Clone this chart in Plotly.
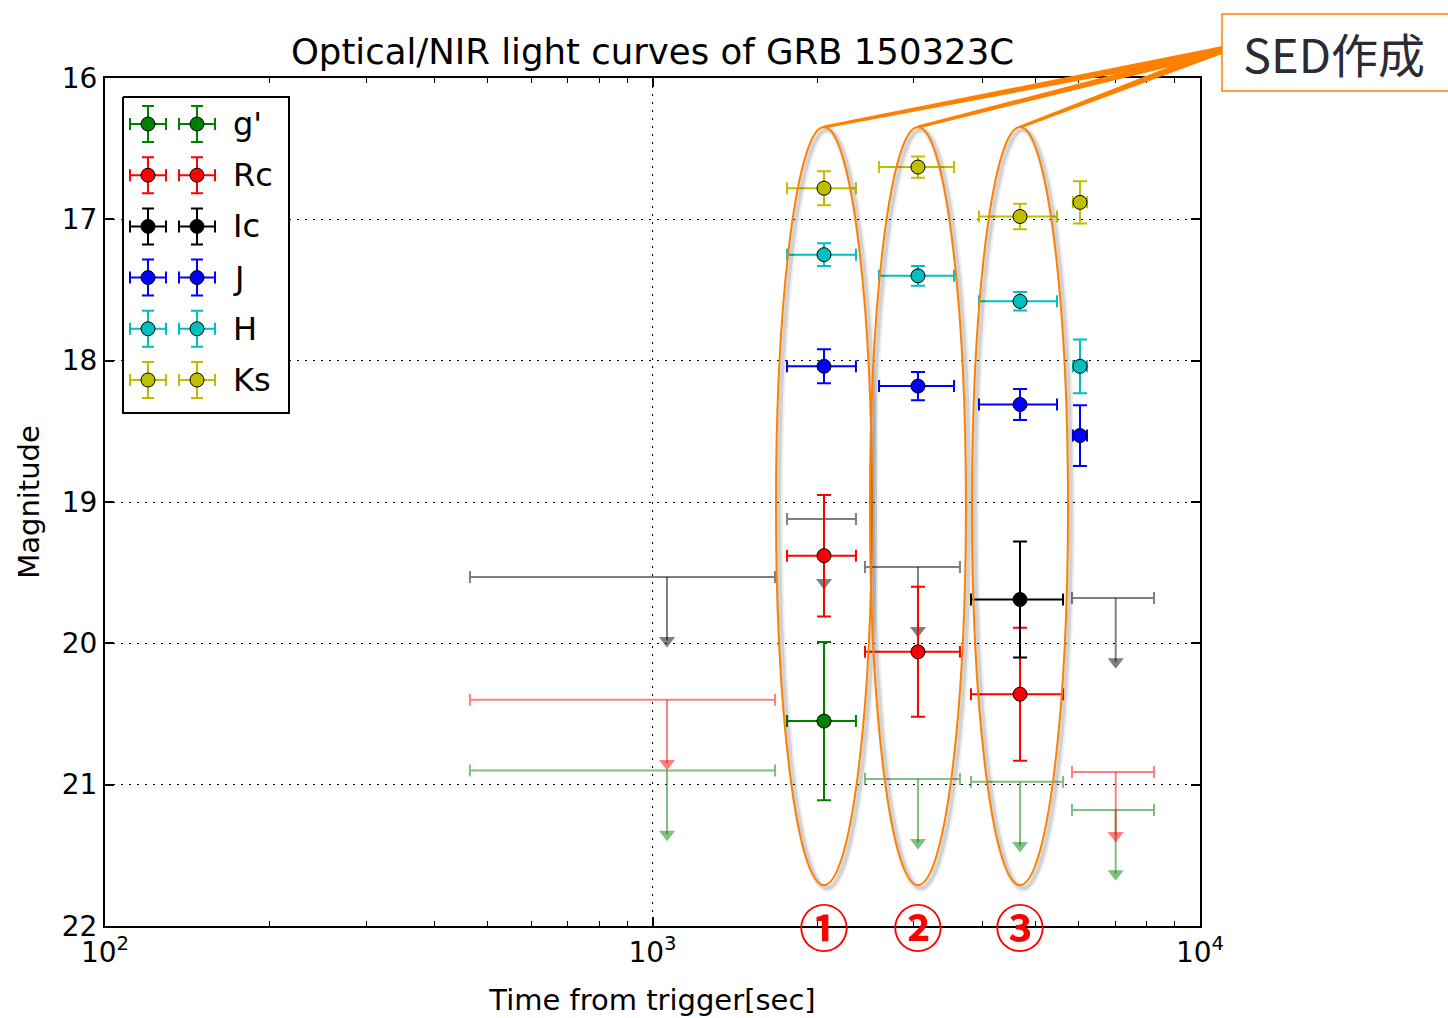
import numpy as np
import plotly.graph_objects as go

# ---------------- photometry ----------------
# times in seconds after the trigger: mid-point, window start, window end
# g'
G_T, G_T0, G_T1 = [2057], [1761], [2353]
G_MAG, G_ERR = [20.55], [0.56]
G_UL_T = [1063, 3054, 4691, 7015]
G_UL_T0 = [464, 2444, 3817, 5837]
G_UL_T1 = [1674, 3644, 5622, 8241]
G_UL_MAG = [20.90, 20.96, 20.98, 21.18]
# Rc
R_T, R_T0, R_T1 = [2057, 3054, 4691], [1761, 2444, 3817], [2353, 3644, 5622]
R_MAG, R_ERR = [19.38, 20.06, 20.36], [0.43, 0.46, 0.47]
R_UL_T, R_UL_T0, R_UL_T1 = [1063, 7015], [464, 5837], [1674, 8241]
R_UL_MAG = [20.40, 20.91]
# Ic
I_T, I_T0, I_T1 = [4691], [3817], [5622]
I_MAG, I_ERR = [19.69], [0.41]
I_UL_T = [1063, 2057, 3054, 7015]
I_UL_T0 = [464, 1761, 2444, 5837]
I_UL_T1 = [1674, 2353, 3644, 8241]
I_UL_MAG = [19.53, 19.12, 19.46, 19.68]
# NIR bands (J, H, Ks) share the same exposures
NIR_T = [2057, 3054, 4691, 6037]
NIR_T0 = [1761, 2593, 3947, 5860]
NIR_T1 = [2353, 3554, 5481, 6217]
J_MAG, J_ERR = [18.04, 18.18, 18.31, 18.53], [0.12, 0.10, 0.11, 0.215]
H_MAG, H_ERR = [17.25, 17.40, 17.58, 18.04], [0.08, 0.07, 0.065, 0.19]
K_MAG, K_ERR = [16.78, 16.63, 16.98, 16.88], [0.12, 0.075, 0.09, 0.15]

# epochs picked for SED construction
SED_EPOCHS = NIR_T[:3]
SED_LABELS = ["①", "②", "③"]

BANDS = ["g'", "Rc", "Ic", "J", "H", "Ks"]
COLORS = ["#008000", "#ff0000", "#000000", "#0000ff", "#00bfbf", "#bfbf00"]
LIMIT_COLORS = ["rgba(0,128,0,0.5)", "rgba(255,0,0,0.5)", "rgba(0,0,0,0.5)"]

X_TICKS = [100, 1000, 10000]
X_TICKTEXT = ["10<sup>2</sup>", "10<sup>3</sup>", "10<sup>4</sup>"]
X_MINOR = [m * d for d in (100, 1000) for m in range(2, 10)]
Y_TICKS = [16, 17, 18, 19, 20, 21, 22]
X_RANGE = [2, 4]      # log10 seconds
Y_RANGE = [22, 16]    # magnitudes, brighter upwards

# ---------------- geometry (pixels) ----------------
W, H = 1448, 1018
PL, PR, PT, PB = 105, 1200, 78, 926
ARROW = 0.45  # length of upper-limit arrows (mag)
FONT = "DejaVu Sans"
CJK = "Noto Sans CJK JP"
ORANGE = "#ff8000"


def pxx(x):
    return (x - PL) / (PR - PL)


def pxy(y):
    return (PB - y) / (PB - PT)


def t_to_paper(t):
    return (np.log10(t) - X_RANGE[0]) / (X_RANGE[1] - X_RANGE[0])


def mag_to_paper(m):
    return (Y_RANGE[0] - m) / (Y_RANGE[0] - Y_RANGE[1])


fig = go.Figure()


def add_limits(t, t0, t1, mag, color):
    fig.add_trace(go.Scatter(
        x=t, y=mag, mode="markers",
        marker=dict(size=0.1, color="rgba(0,0,0,0)"),
        error_x=dict(type="data", symmetric=False,
                     array=[b - a for a, b in zip(t, t1)],
                     arrayminus=[a - b for a, b in zip(t, t0)],
                     color=color, thickness=2, width=6),
        hoverinfo="skip"))
    xs, ys = [], []
    for ti, mi in zip(t, mag):
        xs += [ti, ti, None]
        ys += [mi, mi + ARROW, None]
    fig.add_trace(go.Scatter(x=xs, y=ys, mode="lines",
                             line=dict(color=color, width=2), hoverinfo="skip"))
    fig.add_trace(go.Scatter(
        x=t, y=[m + ARROW for m in mag], mode="markers",
        marker=dict(symbol="triangle-down", size=14, color=color, line=dict(width=0)),
        hoverinfo="skip"))


def add_points(t, t0, t1, mag, err, color, name):
    fig.add_trace(go.Scatter(
        x=t, y=mag, mode="markers", name=name,
        marker=dict(size=14, color=color, line=dict(color="black", width=1)),
        error_x=dict(type="data", symmetric=False,
                     array=[b - a for a, b in zip(t, t1)],
                     arrayminus=[a - b for a, b in zip(t, t0)],
                     color=color, thickness=2, width=6),
        error_y=dict(type="data", array=err, color=color, thickness=2, width=7)))


# upper limits (faint)
add_limits(G_UL_T, G_UL_T0, G_UL_T1, G_UL_MAG, LIMIT_COLORS[0])
add_limits(R_UL_T, R_UL_T0, R_UL_T1, R_UL_MAG, LIMIT_COLORS[1])
add_limits(I_UL_T, I_UL_T0, I_UL_T1, I_UL_MAG, LIMIT_COLORS[2])

# detections
add_points(G_T, G_T0, G_T1, G_MAG, G_ERR, COLORS[0], BANDS[0])
add_points(R_T, R_T0, R_T1, R_MAG, R_ERR, COLORS[1], BANDS[1])
add_points(I_T, I_T0, I_T1, I_MAG, I_ERR, COLORS[2], BANDS[2])
add_points(NIR_T, NIR_T0, NIR_T1, J_MAG, J_ERR, COLORS[3], BANDS[3])
add_points(NIR_T, NIR_T0, NIR_T1, H_MAG, H_ERR, COLORS[4], BANDS[4])
add_points(NIR_T, NIR_T0, NIR_T1, K_MAG, K_ERR, COLORS[5], BANDS[5])

# ---------------- legend box (drawn on a pixel-space overlay axis) ----------------
LEG_X0, LEG_X1, LEG_Y0, LEG_Y1 = 123, 289, 97, 413
LEG_ROW0, LEG_DY = 124, 51.2
LEG_COLS = [148, 197]
LEG_TEXT_X = 231

fig.add_trace(go.Scatter(
    x=[LEG_X0, LEG_X1, LEG_X1, LEG_X0, LEG_X0],
    y=[LEG_Y0, LEG_Y0, LEG_Y1, LEG_Y1, LEG_Y0],
    mode="lines", fill="toself", fillcolor="white",
    line=dict(color="black", width=2), xaxis="x2", yaxis="y2", hoverinfo="skip"))

for i, (band, col) in enumerate(zip(BANDS, COLORS)):
    yy = LEG_ROW0 + i * LEG_DY
    fig.add_trace(go.Scatter(
        x=LEG_COLS, y=[yy, yy], mode="markers", xaxis="x2", yaxis="y2",
        marker=dict(size=14, color=col, line=dict(color="black", width=1)),
        error_x=dict(type="constant", value=18, color=col, thickness=2, width=6),
        error_y=dict(type="constant", value=18, color=col, thickness=2, width=6),
        hoverinfo="skip"))
    fig.add_annotation(x=pxx(LEG_TEXT_X), y=pxy(yy), xref="paper", yref="paper",
                       text=band, showarrow=False, xanchor="left", yanchor="middle",
                       font=dict(family=FONT, size=32, color="black"))

# ---------------- SED epoch markers ----------------
shapes = []
ELL_HALF_W = 48 / (PR - PL)          # paper units
ELL_TOP, ELL_BOT = 16.347, 21.711     # magnitudes
SHADOW_DX = 3 / (PR - PL)
SHADOW_DY = 3 / (PB - PT)
for t in SED_EPOCHS:
    cx = t_to_paper(t)
    ytop, ybot = mag_to_paper(ELL_TOP), mag_to_paper(ELL_BOT)
    for w, a in ((8, 0.06), (4, 0.12)):
        shapes.append(dict(type="circle", xref="paper", yref="paper",
                           x0=cx - ELL_HALF_W + SHADOW_DX, x1=cx + ELL_HALF_W + SHADOW_DX,
                           y0=ybot - SHADOW_DY, y1=ytop - SHADOW_DY,
                           line=dict(color=f"rgba(0,0,0,{a})", width=w), layer="above"))
    shapes.append(dict(type="circle", xref="paper", yref="paper",
                       x0=cx - ELL_HALF_W, x1=cx + ELL_HALF_W, y0=ybot, y1=ytop,
                       line=dict(color=ORANGE, width=2), layer="above"))

# connectors from ellipse tops to the label box (tapered)
BOX_X0, BOX_X1, BOX_Y0, BOX_Y1 = 1222, 1452, 14, 91
JOIN = (1222, 50)
for t in SED_EPOCHS:
    sx = PL + t_to_paper(t) * (PR - PL)
    sy = PB - mag_to_paper(ELL_TOP) * (PB - PT)
    ex, ey = JOIN
    dx, dy = ex - sx, ey - sy
    n = np.hypot(dx, dy)
    nx, ny = -dy / n, dx / n
    w0, w1 = 1.5, 3.8
    pts = [(sx + nx * w0, sy + ny * w0), (ex + nx * w1, ey + ny * w1),
           (ex - nx * w1, ey - ny * w1), (sx - nx * w0, sy - ny * w0)]
    path = "M " + " L ".join(f"{pxx(a):.5f},{pxy(b):.5f}" for a, b in pts) + " Z"
    shapes.append(dict(type="path", xref="paper", yref="paper", path=path,
                       fillcolor=ORANGE, line=dict(width=0), layer="above"))

shapes.append(dict(type="rect", xref="paper", yref="paper",
                   x0=pxx(BOX_X0), x1=pxx(BOX_X1), y0=pxy(BOX_Y1), y1=pxy(BOX_Y0),
                   fillcolor="white", line=dict(color=ORANGE, width=1.5), layer="above"))

fig.add_annotation(x=pxx(1241), y=pxy((BOX_Y0 + BOX_Y1) / 2), xref="paper", yref="paper",
                   text="SED作成", showarrow=False, xanchor="left", yanchor="middle",
                   font=dict(family=CJK, size=47, color="#2b2b36"))

for t, lab in zip(SED_EPOCHS, SED_LABELS):
    fig.add_annotation(x=t_to_paper(t), y=mag_to_paper(22) + 1 / (PB - PT),
                       xref="paper", yref="paper", text=lab,
                       showarrow=False, xanchor="center", yanchor="middle",
                       font=dict(family=CJK, size=50, color="#ff0000", weight=700))

# ---------------- layout ----------------
axis_common = dict(
    showline=True, linewidth=2, linecolor="black", mirror="allticks",
    ticks="inside", tickwidth=1.5, tickcolor="black", ticklen=9,
    showgrid=True, gridcolor="black", gridwidth=1, griddash="2px,6px",
    zeroline=False, automargin=False,
    tickfont=dict(family=FONT, size=28, color="black"),
)

fig.update_layout(
    width=W, height=H, autosize=False,
    margin=dict(l=PL, r=W - PR, t=PT, b=H - PB, autoexpand=False),
    paper_bgcolor="white", plot_bgcolor="white",
    showlegend=False,
    font=dict(family=FONT, color="black"),
    title=dict(text="Optical/NIR light curves of GRB 150323C",
               x=0.5, xref="paper", xanchor="center",
               y=1 - 52 / H, yref="container", yanchor="middle",
               font=dict(family=FONT, size=35.5, color="black")),
    xaxis=dict(type="log", range=X_RANGE, tickmode="array",
               tickvals=X_TICKS, ticktext=X_TICKTEXT,
               minor=dict(tickmode="array", tickvals=X_MINOR, ticks="inside",
                          ticklen=5, tickwidth=1, tickcolor="black", showgrid=False),
               title=dict(text="Time from trigger[sec]",
                          font=dict(family=FONT, size=29), standoff=22),
               **axis_common),
    yaxis=dict(range=Y_RANGE, tickmode="array", tickvals=Y_TICKS,
               title=dict(text="Magnitude", font=dict(family=FONT, size=29), standoff=14),
               **axis_common),
    xaxis2=dict(overlaying="x", range=[PL, PR], visible=False, anchor="y2"),
    yaxis2=dict(overlaying="y", range=[PB, PT], visible=False, anchor="x2"),
    shapes=shapes,
)

fig.write_html("out.html")
